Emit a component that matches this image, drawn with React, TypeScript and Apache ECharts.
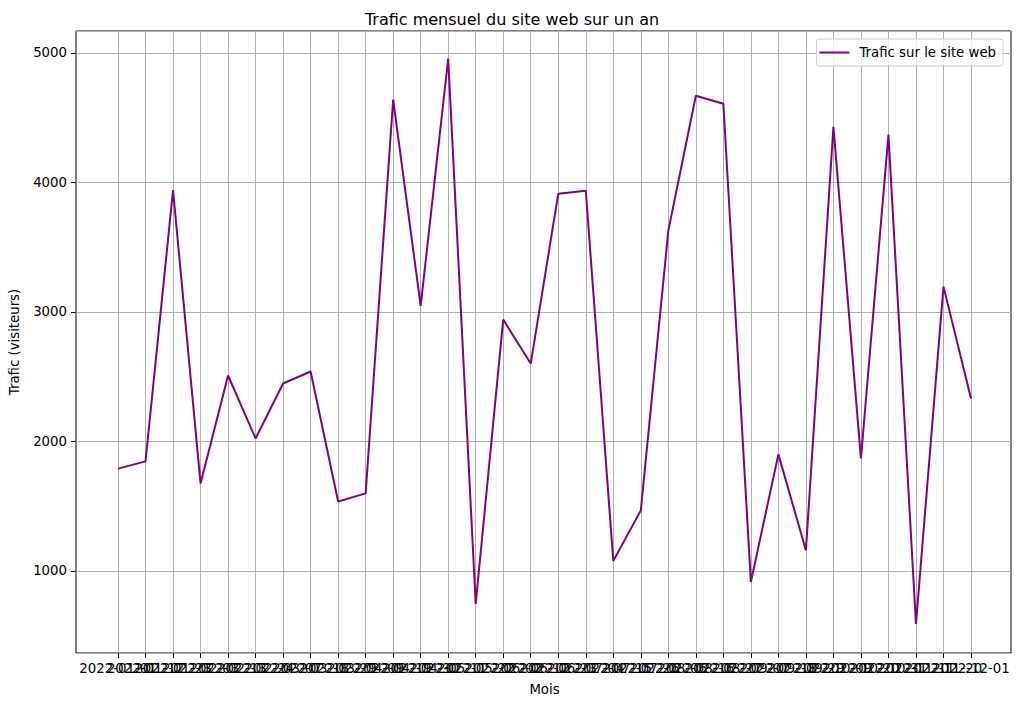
import React, { useEffect, useRef } from "react";
import * as echarts from "echarts";

const dates: string[] = [
  "2022-01-01", "2022-01-12", "2022-01-23", "2022-02-03", "2022-02-13", "2022-02-24",
  "2022-03-07", "2022-03-18", "2022-03-29", "2022-04-09", "2022-04-19", "2022-04-30",
  "2022-05-11", "2022-05-22", "2022-06-02", "2022-06-12", "2022-06-23", "2022-07-04",
  "2022-07-15", "2022-07-26", "2022-08-06", "2022-08-16", "2022-08-27", "2022-09-07",
  "2022-09-18", "2022-09-29", "2022-10-09", "2022-10-20", "2022-10-31", "2022-11-11",
  "2022-11-20", "2022-12-01",
];

const traffic: number[] = [
  1790, 1846, 3940, 1676, 2509, 2023, 2447, 2540, 1537, 1599, 4638, 3046,
  4954, 745, 2940, 2601, 3912, 3935, 1077, 1468, 3627, 4668, 4606, 915,
  1900, 1160, 4429, 1869, 4368, 591, 3195, 2331,
];

const yTicks: number[] = [1000, 2000, 3000, 4000, 5000];

const Y_MIN = 367;
const Y_MAX = 5168;
const FONT = "DejaVu Sans";
const FS = 13.3;

export default function App() {
  const ref = useRef<HTMLDivElement>(null);

  useEffect(() => {
    if (!ref.current) return;
    const chart = echarts.init(ref.current, undefined, { renderer: "svg" });
    const option: any = {
      animation: false,
      backgroundColor: "#ffffff",
      textStyle: { fontFamily: FONT },
      title: {
        text: "Trafic mensuel du site web sur un an",
        left: "center",
        top: 6,
        textStyle: { fontFamily: FONT, fontSize: 16, fontWeight: "normal", color: "#000" },
      },
      legend: {
        data: [{ name: "Trafic sur le site web", icon: "rect" }],
        right: 21,
        top: 39,
        orient: "vertical",
        backgroundColor: "rgba(255,255,255,0.8)",
        borderColor: "#cccccc",
        borderWidth: 1,
        borderRadius: 3,
        padding: [7, 7, 7, 3],
        itemWidth: 30,
        itemHeight: 2,
        itemGap: 6,
        textStyle: { fontFamily: FONT, fontSize: FS, color: "#000", padding: [0, 0, 0, 5] },
      },
      grid: [
        {
          left: 75, right: 13, top: 31, bottom: 54,
          show: true, borderColor: "#000", borderWidth: 1, backgroundColor: "transparent",
          containLabel: false,
        },
        {
          left: 118, right: 53, top: 31, bottom: 54,
          show: false, containLabel: false,
        },
      ],
      xAxis: [
        { type: "value", gridIndex: 0, min: 0, max: 1, show: false },
        {
          type: "category",
          gridIndex: 1,
          data: dates,
          boundaryGap: false,
          axisLine: { show: false },
          axisTick: { show: true, alignWithLabel: true, inside: false, length: 5, lineStyle: { color: "#000" }, interval: 0 },
          axisLabel: {
            interval: 0,
            hideOverlap: false,
            margin: 9,
            fontFamily: FONT,
            fontSize: FS,
            color: "#000",
          },
          splitLine: { show: true, interval: 0, lineStyle: { color: "#b0b0b0", width: 1 } },
          name: "Mois",
          nameLocation: "middle",
          nameGap: 30,
          nameTextStyle: { fontFamily: FONT, fontSize: FS, color: "#000" },
        },
      ],
      yAxis: [
        {
          type: "value",
          gridIndex: 0,
          min: Y_MIN,
          max: Y_MAX,
          splitNumber: 5,
          axisLine: { show: false },
          axisTick: { show: true, length: 5, lineStyle: { color: "#000" } },
          axisLabel: {
            showMinLabel: false,
            showMaxLabel: false,
            margin: 9,
            fontFamily: FONT,
            fontSize: FS,
            color: "#000",
            formatter: (v: number) => (yTicks.includes(v) ? String(v) : ""),
          },
          splitLine: { show: true, lineStyle: { color: "#b0b0b0", width: 1 } },
          name: "Trafic (visiteurs)",
          nameLocation: "middle",
          nameGap: 55,
          nameRotate: 90,
          nameTextStyle: { fontFamily: FONT, fontSize: FS, color: "#000" },
        },
        { type: "value", gridIndex: 1, min: Y_MIN, max: Y_MAX, show: false },
      ],
      series: [
        {
          name: "Trafic sur le site web",
          type: "line",
          xAxisIndex: 1,
          yAxisIndex: 1,
          data: traffic,
          symbol: "none",
          showSymbol: false,
          lineStyle: { color: "#800080", width: 2 },
          itemStyle: { color: "#800080" },
          z: 5,
        },
      ],
    };
    chart.setOption(option);
    return () => chart.dispose();
  }, []);

  return (
    <div
      ref={ref}
      style={{ position: "fixed", left: 0, top: 0, width: 1024, height: 707 }}
    />
  );
}
